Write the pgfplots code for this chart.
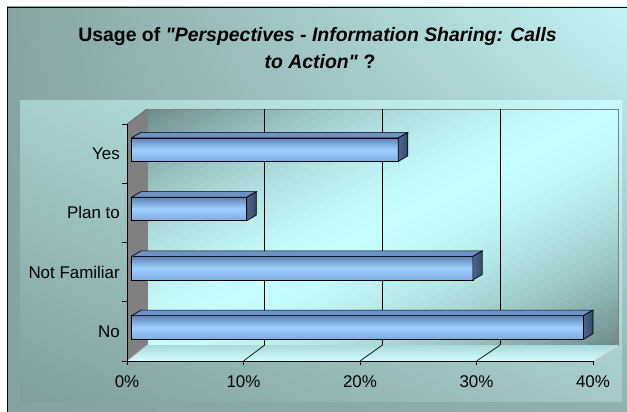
\documentclass[border=0pt]{standalone}
\usepackage{fontspec}
\setmainfont{Liberation Sans}
\newfontfamily\titlefont{Liberation Sans}
\usepackage{pgfplots}
\pgfplotsset{compat=1.18}
\usepackage{pgfplotstable}
\usetikzlibrary{shadings}

\definecolor{caUL}{HTML}{86A4A2}
\definecolor{caUR}{HTML}{C4F5F5}
\definecolor{caLL}{HTML}{84A2A0}
\definecolor{caLR}{HTML}{8EAFAD}
\definecolor{paUL}{HTML}{A6CFCD}
\definecolor{paUR}{HTML}{C8FCFC}
\definecolor{paLL}{HTML}{7F9E9C}
\definecolor{paLR}{HTML}{A4C9C8}
\definecolor{bwDark}{HTML}{6C8B89}
\definecolor{bwLight}{HTML}{C6FEFE}
\definecolor{wallGray}{HTML}{808080}
\definecolor{floorBack}{HTML}{A9D9D9}
\definecolor{floorFront}{HTML}{D2FFFF}
\definecolor{barTop}{HTML}{5F83B6}
\definecolor{barMid}{HTML}{9DD0FF}
\definecolor{barBot}{HTML}{80ABE0}
\definecolor{barTopFace}{HTML}{6D93C6}
\definecolor{barSideA}{HTML}{4C678C}
\definecolor{barSideB}{HTML}{34496A}

\pgfplotstableread{
y val
0 38.8
1 29.3
2 9.9
3 22.9
}\datatable

\pgfplotsset{frontbar/.style={xbar, bar width=23.5bp, xshift=4.5bp, yshift=4bp, draw=black, line width=0.7bp,
    top color=barTop, bottom color=barBot, middle color=barMid}}

\begin{document}
\begin{tikzpicture}[x=1bp,y=1bp]
\useasboundingbox (0,0) rectangle (627,411);
\begin{scope}
\clip (0,0) rectangle (627,411);
\fill[white] (0,0) rectangle (627,411);
\shade[upper left=caUL, upper right=caUR, lower left=caLL, lower right=caLR] (7,-10) rectangle (640,404);
\draw[black, line width=0.9bp] (7,-10) -- (7,404) -- (640,404);
\shade[upper left=paUL, upper right=paUR, lower left=paLL, lower right=paLR] (20,10) rectangle (622,311);
\end{scope}
% back wall: diagonal dark-light-dark gradient built from stripes
\begin{scope}
\clip (147,66) rectangle (618,302);
\foreach \k in {0,...,59} {
  \pgfmathsetmacro\ta{\k/60}
  \pgfmathsetmacro\tb{(\k+1.15)/60}
  \pgfmathsetmacro\mix{100*(abs(2*(\k+0.5)/60-1))^1.6}
  \fill[bwDark!\mix!bwLight]
    (147+471*\ta-471, 302-236*\ta-236) -- (147+471*\ta+471, 302-236*\ta+236)
    -- (147+471*\tb+471, 302-236*\tb+236) -- (147+471*\tb-471, 302-236*\tb-236) -- cycle;
}
\end{scope}
\draw[gray, line width=0.8bp] (147,66) rectangle (618,302);
\foreach \x in {264.75,382.5,500.25} \draw[black, line width=0.7bp] (\x,66) -- (\x,302);
% side wall
\fill[wallGray] (127,50) -- (147,66) -- (147,302) -- (127,287) -- cycle;
\draw[gray!70!black, line width=0.6bp] (127,287) -- (147,302);
% floor
\shade[top color=floorBack, bottom color=floorFront] (127,50) -- (593,50) -- (618,66) -- (147,66) -- cycle;
\draw[white!75!gray, line width=0.8bp] (593,50) -- (618,66);
\draw[gray!60, line width=0.6bp] (127,50) -- (147,66);
\foreach \k in {1,2,3} \draw[black, line width=0.7bp] (127+116.5*\k,50) -- (147+117.75*\k,66);

\node[anchor=base, font=\titlefont\bfseries\fontsize{19.5}{24}\selectfont] at (317.5,370) {Usage of \textit{"Perspectives - Information Sharing: Calls}};
\node[anchor=base, font=\titlefont\bfseries\fontsize{19.5}{24}\selectfont] at (320,343) {\textit{to Action"} ?};

\begin{axis}[
  at={(127bp,50bp)}, anchor=south west,
  width=466bp, height=237bp, scale only axis,
  xmin=0, xmax=40, ymin=-0.5, ymax=3.5,
  axis x line*=bottom, axis y line*=left,
  axis line style={black, line width=0.9bp},
  xtick={0,10,20,30,40}, xticklabels={0\%,10\%,20\%,30\%,40\%},
  ytick={0,1,2,3}, yticklabels={No,Not Familiar,Plan to,Yes},
  minor ytick={-0.5,0.5,1.5,2.5,3.5},
  tick align=outside, major tick length=4bp, minor tick length=5bp,
  every major y tick/.append style={draw=none},
  tick style={black, line width=0.7bp},
  tick label style={font=\fontsize{17}{20}\selectfont},
  yticklabel style={inner sep=0pt, xshift=-3bp},
  xticklabel style={inner sep=0pt, yshift=-10bp},
  clip=false,
]
\addplot[frontbar, restrict y to domain=-0.2:0.2] table[x=val, y=y] {\datatable};
\addplot[frontbar, restrict y to domain=0.8:1.2] table[x=val, y=y] {\datatable};
\addplot[frontbar, restrict y to domain=1.8:2.2] table[x=val, y=y] {\datatable};
\addplot[frontbar, restrict y to domain=2.8:3.2] table[x=val, y=y] {\datatable};
\pgfplotsinvokeforeach{0,1,2,3}{
  \pgfplotstablegetelem{#1}{val}\of\datatable
  \edef\temp{%
    \noexpand\fill[barTopFace, draw=black, line width=0.7bp]
      ([shift={(4.5bp,15.75bp)}]axis cs:0,#1) -- ([shift={(4.5bp,15.75bp)}]axis cs:\pgfplotsretval,#1)
      -- ([shift={(14bp,21.25bp)}]axis cs:\pgfplotsretval,#1) -- ([shift={(14bp,21.25bp)}]axis cs:0,#1) -- cycle;
    \noexpand\shade[left color=barSideA, right color=barSideB, draw=black, line width=0.7bp]
      ([shift={(4.5bp,15.75bp)}]axis cs:\pgfplotsretval,#1) -- ([shift={(4.5bp,-7.75bp)}]axis cs:\pgfplotsretval,#1)
      -- ([shift={(14bp,-2.25bp)}]axis cs:\pgfplotsretval,#1) -- ([shift={(14bp,21.25bp)}]axis cs:\pgfplotsretval,#1) -- cycle;
  }%
  \temp
}
\end{axis}
\end{tikzpicture}
\end{document}
